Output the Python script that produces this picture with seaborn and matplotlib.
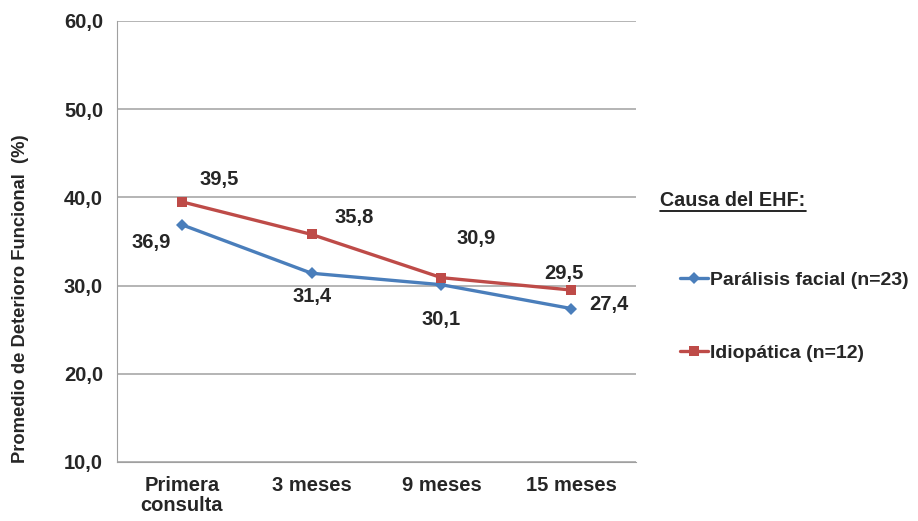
import matplotlib
matplotlib.use("Agg")
import matplotlib.pyplot as plt
from matplotlib.lines import Line2D
import seaborn as sns
import pandas as pd

categories = ["Primera\nconsulta", "3 meses", "9 meses", "15 meses"]
paralisis = [36.9, 31.4, 30.1, 27.4]
idiopatica = [39.5, 35.8, 30.9, 29.5]
series_names = ["Parálisis facial (n=23)", "Idiopática (n=12)"]
y_ticks = [10, 20, 30, 40, 50, 60]

blue = "#4A7EBB"
red = "#BE4B48"

sns.set_style("white")
plt.rcParams["font.family"] = ["Liberation Sans", "DejaVu Sans"]

df = pd.DataFrame({
    "x": list(range(len(categories))) * 2,
    "valor": paralisis + idiopatica,
    "serie": [series_names[0]] * 4 + [series_names[1]] * 4,
})

fig = plt.figure(figsize=(9.18, 5.21), dpi=100)
ax = fig.add_axes([117 / 918, 59 / 521, 519 / 918, 441 / 521])

sns.lineplot(data=df, x="x", y="valor", hue="serie", style="serie",
             palette={series_names[0]: blue, series_names[1]: red},
             markers={series_names[0]: "D", series_names[1]: "s"},
             dashes=False, linewidth=2.4, markersize=7, markeredgewidth=0,
             ax=ax, legend=False)
ax.lines[0].set_markersize(6)
ax.lines[1].set_markersize(7.5)

ax.set_xlim(-0.5, 3.5)
ax.set_ylim(10, 60)
ax.set_yticks(y_ticks)
ax.set_yticklabels([f"{v:.1f}".replace(".", ",") for v in y_ticks],
                   fontsize=14.5, fontweight="bold")
ax.set_xticks(range(len(categories)))
ax.set_xticklabels(categories, fontsize=14.5, fontweight="bold", linespacing=1.1)
ax.tick_params(axis="x", length=0, pad=10)
ax.tick_params(axis="y", length=0, pad=10)
ax.set_xlabel("")
ax.set_ylabel("Promedio de Deterioro Funcional  (%)", fontsize=13.2,
              fontweight="bold")
ax.yaxis.set_label_coords(-0.17, 0.37)

ax.yaxis.grid(True, color="#A0A0A0", linewidth=1.1)
ax.set_axisbelow(True)
for side in ["top", "right"]:
    ax.spines[side].set_visible(False)
ax.spines["left"].set_color("#A0A0A0")
ax.spines["bottom"].set_color("#A0A0A0")

# Value labels (offsets in points)
blue_off = [(-22, -13), (0, -17), (0, -25), (27, 3)]
red_off = [(27, 16), (31, 12), (25, 28), (-5, 12)]
fmt = lambda v: f"{v:.1f}".replace(".", ",")
for i, v in enumerate(paralisis):
    ax.annotate(fmt(v), (i, v), xytext=blue_off[i], textcoords="offset points",
                ha="center", va="center", fontsize=14.5, fontweight="bold")
for i, v in enumerate(idiopatica):
    ax.annotate(fmt(v), (i, v), xytext=red_off[i], textcoords="offset points",
                ha="center", va="center", fontsize=14.5, fontweight="bold")

# Legend
handles = [Line2D([], [], color=blue, marker="D", markersize=6, linewidth=2.4,
                  markeredgewidth=0),
           Line2D([], [], color=red, marker="s", markersize=7.5, linewidth=2.4,
                  markeredgewidth=0)]
fig.legend(handles, series_names, loc="upper left",
           bbox_to_anchor=(680 / 918, 1 - 271 / 521), frameon=False,
           prop={"size": 14.0, "weight": "bold"}, handlelength=1.45,
           handletextpad=0.1, labelspacing=2.85, borderaxespad=0, borderpad=0)

fig.text(660 / 918, 1 - 200 / 521, "Causa del EHF:", fontsize=14.2,
         fontweight="bold", ha="left", va="center")
fig.add_artist(Line2D([660 / 918, 806 / 918], [1 - 211 / 521, 1 - 211 / 521],
                      color="black", linewidth=1.2, transform=fig.transFigure))

fig.savefig("out.png", dpi=100)
